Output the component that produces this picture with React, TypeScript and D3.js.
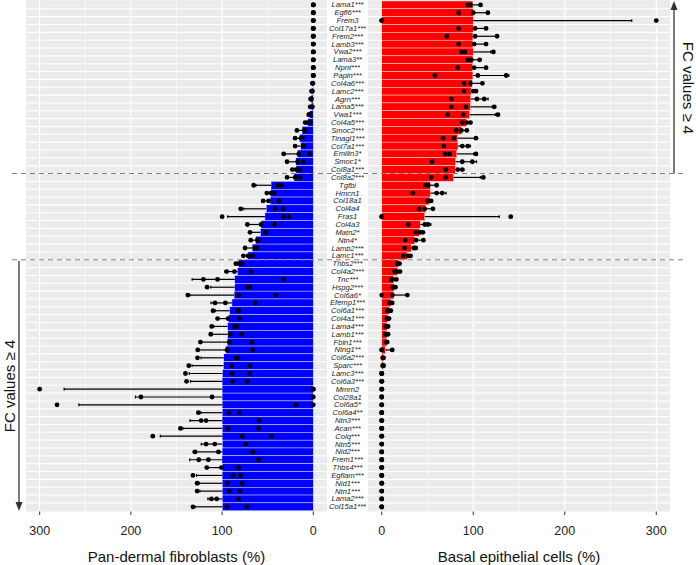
import React from "react";
import * as d3 from "d3";

const genes = [
  "Lama1***","Egfl6***","Frem3","Col17a1***","Frem2***","Lamb3***","Vwa2***","Lama3**","Npnt***","Papln***",
  "Col4a6***","Lamc2***","Agrn***","Lama5***","Vwa1***","Col4a5***","Smoc2***","Tinagl1***","Col7a1***","Emilin3*",
  "Smoc1*","Col8a1***","Col8a2***","Tgfbi","Hmcn1","Col18a1","Col4a4","Fras1","Col4a3","Matn2*",
  "Ntn4*","Lamb2***","Lamc1***","Thbs2***","Col4a2***","Tnc***","Hspg2***","Col6a6*","Efemp1***","Col6a1***",
  "Col4a1***","Lama4***","Lamb1***","Fbln1***","Ntng1**","Col6a2***","Sparc***","Lamc3***","Col6a3***","Mmrn2",
  "Col28a1","Col6a5*","Col6a4**","Ntn3***","Acan***","Colq***","Ntn5***","Nid2***","Frem1***","Thbs4***",
  "Egflam***","Nid1***","Ntn1***","Lama2***","Col15a1***"
];

// Pan-dermal fibroblasts, three replicate values per gene (%)
const fibroRep1 = [0,0,0,0,0,0,0,0,0,0, 0.5,1,2,1,3,3,9,12,10.5,4.4, 11.3,15,14.5,35,43,38,33.2,26.7,42.4,51.8,
  60.2,62,66.8,78.5,68.3,33,70,41,63.5,82, 81,84,78.5,67.5,66.4,83,69.4,70,72.7,0, 0,0,81,59.5,60.2,46,73.7,66.4,59.9,82,
  80,78,80.3,82,73];
const fibroRep2 = [0,0,0,0,0,0,0,0,0,0, 0.7,1.5,2.5,2,4.5,6.5,10,13.5,11,16, 17.2,19,20,38.7,46.4,49,42,32.5,57.3,52.6,
  61.3,64.3,71.6,81.8,86.5,105,72,82,96.4,83, 93.5,86.5,91,92,94.6,84.7,89.8,89,88.4,0, 111,19,92.7,117.6,93.8,78,108,104,115,100.8,
  88,94.2,92,105.9,94.6];
const fibroRep3 = [0,0,0,0,0,0,0,0,0,0, 1,2,3,3.5,5,9,18,20,20,32.5, 28.8,23,28.8,65.4,51,55,79.6,100,72.3,69.4,
  68.6,74.8,76.7,85,95,120.5,116.5,137.6,107.7,110, 105,111.4,112.4,123.8,126.7,127,136.5,140.2,139,300, 189,281,126,123,145.7,176,117.6,129.6,125.6,116.8,
  132,127.4,127.4,111.7,132];

// Basal epithelial cells, three replicate values per gene (%)
const basalRep1 = [94,84,0,84,71,84,87,94,83,58, 90,90,76,76,72,88,81.5,67,68,69, 55,70,54,48,34,50,41,0,29,37,
  25.5,25,23.5,17,14,10.5,12,0,8.5,6, 5.5,4.5,4,5,0,1,1,0,0,0, 0,0,0,0,0,0,0,0,0,0, 0,0,0,0,0];
const basalRep2 = [97,100,0,102,102,101,91,98,101,105, 97,100,104,92,89,93,87,79,88,74, 88,83,70,51,60,52,47,0,47,42,
  37.5,35,29,18,17,12,13.5,11.7,10,8, 7,6,5.5,5.5,0,1.5,1.5,0,0,0, 0,0,0,0,0,0,0,0,0,0, 0,0,0,0,0];
const basalRep3 = [108,116,300,114,126,114,122,107,114,136, 110,103,112,123,127,97,93,103,94,103, 99,88,111,60,66,54,56,141,50.5,45,
  45.5,37,31.5,19.5,20,16,15,28,11.5,10, 8,7,7,6,11.5,2,2,0,0,0, 0,0,0,0,0,0,0,0,0,0, 0,0,0,0,0];

const xTicks = [0, 100, 200, 300];
const xMinor = [50, 150, 250];

const W = 696, H = 565;
const FONT = "'Liberation Sans', Arial, Helvetica, sans-serif";

function stats(reps: number[][]) {
  return genes.map((g, i) => {
    const v = reps.map(r => r[i]);
    const m = d3.mean(v) as number;
    const sd = (d3.deviation(v) as number) || 0;
    return { g, v, m, sd };
  });
}

export default function App() {
  const y = d3.scalePoint<string>().domain(genes).range([4.9, 506.8]);
  const step = y.step();
  const top = (y(genes[0]) as number) - 0.6 * step;
  const bottom = (y(genes[genes.length - 1]) as number) + 0.6 * step;

  const xL = d3.scaleLinear().domain([-15, 315]).range([327, 26]);
  const xR = d3.scaleLinear().domain([-15, 315]).range([368, 670]);

  const fibro = stats([fibroRep1, fibroRep2, fibroRep3]);
  const basal = stats([basalRep1, basalRep2, basalRep3]);

  const dash1 = ((y("Col8a1***") as number) + (y("Col8a2***") as number)) / 2;
  const dash2 = ((y("Lamc1***") as number) + (y("Thbs2***") as number)) / 2;

  const panel = (x: d3.ScaleLinear<number, number>, data: ReturnType<typeof stats>, color: string, key: string) => {
    const [r0, r1] = x.range();
    const px0 = Math.min(r0, r1), px1 = Math.max(r0, r1);
    const x0 = x(0);
    return (
      <g key={key}>
        <rect x={px0} y={top} width={px1 - px0} height={bottom - top} fill="#EBEBEB" />
        {xMinor.map(t => (
          <line key={"mi" + t} x1={x(t)} x2={x(t)} y1={top} y2={bottom} stroke="#fff" strokeWidth={0.55} />
        ))}
        {xTicks.map(t => (
          <line key={"ma" + t} x1={x(t)} x2={x(t)} y1={top} y2={bottom} stroke="#fff" strokeWidth={1.1} />
        ))}
        {genes.slice(0, -1).map(g => (
          <line key={"h" + g} x1={px0} x2={px1} y1={(y(g) as number) + step / 2} y2={(y(g) as number) + step / 2} stroke="#fff" strokeWidth={1.1} />
        ))}
        {data.map(d => {
          const xe = x(d.m);
          return (
            <rect key={"b" + d.g} x={Math.min(x0, xe)} y={(y(d.g) as number) - step / 2} width={Math.abs(xe - x0)} height={step}
              fill={color} stroke="#fff" strokeWidth={0.4} />
          );
        })}
        {data.filter(d => d.sd > 0).map(d => {
          const yy = y(d.g) as number;
          const xa = x(d.m), xb = x(d.m + d.sd);
          return (
            <g key={"e" + d.g}>
              <line x1={xa} x2={xb} y1={yy} y2={yy} stroke="#000" strokeWidth={1.2} />
              <line x1={xb} x2={xb} y1={yy - 1.4} y2={yy + 1.4} stroke="#000" strokeWidth={1.2} />
            </g>
          );
        })}
        {data.map(d => d.v.map((v, j) => (
          <circle key={"p" + d.g + j} cx={x(v)} cy={y(d.g) as number} r={2.4} fill="#000" />
        )))}
        {xTicks.map(t => (
          <g key={"t" + t}>
            <line x1={x(t)} x2={x(t)} y1={bottom} y2={bottom + 3.5} stroke="#333" strokeWidth={1} />
            <text x={x(t)} y={bottom + 19} textAnchor="middle" dominantBaseline="central" fontSize={12.5} fill="#222" fontFamily={FONT}>{t}</text>
          </g>
        ))}
      </g>
    );
  };

  const arrowHead = (x: number, yTip: number, dir: number) =>
    `M${x},${yTip} L${x - 3.5},${yTip - dir * 9} L${x + 3.5},${yTip - dir * 9} Z`;

  return (
    <svg width={W} height={H} style={{ position: "absolute", left: 0, top: 0, background: "#fff" }}>
      {panel(xL, fibro, "#0000FF", "L")}
      {panel(xR, basal, "#FF0000", "R")}
      {genes.map(g => (
        <text key={"lab" + g} x={347.5} y={y(g) as number} textAnchor="middle" dominantBaseline="central"
          fontSize={7.6} fontStyle="italic" fill="#222" fontFamily={FONT}>{g}</text>
      ))}
      <line x1={12} x2={684} y1={dash1} y2={dash1} stroke="#7f7f7f" strokeWidth={1} strokeDasharray="5,4" />
      <line x1={12} x2={684} y1={dash2} y2={dash2} stroke="#7f7f7f" strokeWidth={1} strokeDasharray="5,4" />
      <line x1={19} x2={19} y1={dash2 + 1} y2={502} stroke="#333" strokeWidth={1.3} />
      <path d={arrowHead(19, 511, 1)} fill="#333" />
      <line x1={674} x2={674} y1={dash1} y2={10} stroke="#333" strokeWidth={1.3} />
      <path d={arrowHead(674, 1, -1)} fill="#333" />
      <text transform={`translate(9,386) rotate(-90)`} textAnchor="middle" dominantBaseline="central" fontSize={15} fill="#111" fontFamily={FONT}>FC values ≥ 4</text>
      <text transform={`translate(688,88) rotate(90)`} textAnchor="middle" dominantBaseline="central" fontSize={15} fill="#111" fontFamily={FONT}>FC values ≥ 4</text>
      <text x={(26 + 327) / 2} y={556} textAnchor="middle" dominantBaseline="central" fontSize={15} fill="#111" fontFamily={FONT}>Pan-dermal fibroblasts (%)</text>
      <text x={(368 + 670) / 2} y={556} textAnchor="middle" dominantBaseline="central" fontSize={15} fill="#111" fontFamily={FONT}>Basal epithelial cells (%)</text>
    </svg>
  );
}
